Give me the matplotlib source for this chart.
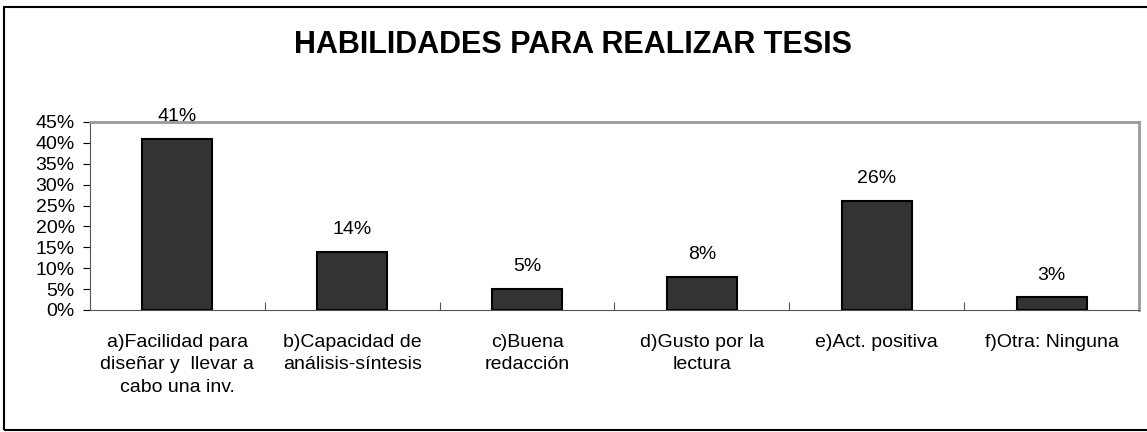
import matplotlib.pyplot as plt
from matplotlib.patches import Rectangle
from matplotlib.ticker import PercentFormatter

# datos
categorias = ['a)Facilidad para\ndiseñar y  llevar a\ncabo una inv.',
              'b)Capacidad de\nanálisis-síntesis',
              'c)Buena\nredacción',
              'd)Gusto por la\nlectura',
              'e)Act. positiva',
              'f)Otra: Ninguna']
porcentajes = [41, 14, 5, 8, 26, 3]
ticks_y = [0, 5, 10, 15, 20, 25, 30, 35, 40, 45]

plt.rcParams['font.family'] = ['Liberation Sans', 'DejaVu Sans']

fig = plt.figure(figsize=(11.47, 4.32), dpi=100)
ax = fig.add_axes([90 / 1147, 1 - 310 / 432, (1139 - 90) / 1147, (310 - 122) / 432])

x = list(range(len(categorias)))
barras = ax.bar(x, porcentajes, width=0.4, color='#333333', edgecolor='black', linewidth=1.5)
for xi, v in zip(x, porcentajes):
    ax.annotate(str(v) + '%', (xi, v), xytext=(0, 10), textcoords='offset points',
                ha='center', va='bottom', fontsize=14)

ax.set_xlim(-0.5, len(categorias) - 0.5)
ax.set_ylim(0, 45)
ax.set_yticks(ticks_y)
ax.yaxis.set_major_formatter(PercentFormatter(decimals=0))
ax.set_xticks([i + 0.5 for i in range(-1, len(categorias))])
ax.set_xticklabels([])
ax.set_xticks(x, minor=True)
ax.set_xticklabels(categorias, minor=True, fontsize=14, linespacing=1.45)
ax.tick_params(axis='x', which='minor', length=0, pad=17)
ax.tick_params(axis='x', which='major', length=6, direction='in', color='#555555')
ax.tick_params(axis='y', length=5, direction='out', labelsize=14, pad=6)

ax.spines['top'].set_color('#999999')
ax.spines['right'].set_color('#999999')
ax.spines['top'].set_linewidth(2)
ax.spines['right'].set_linewidth(2)
ax.spines['bottom'].set_color('#555555')
ax.spines['left'].set_color('#555555')

fig.text(0.5, 1 - 45 / 432, 'HABILIDADES PARA REALIZAR TESIS', ha='center', va='center',
         fontsize=22, fontweight='bold')

# marco exterior
fig.patches.append(Rectangle((4 / 1147, 2 / 432), 1.1, 1 - 9 / 432, transform=fig.transFigure,
                             fill=False, edgecolor='black', linewidth=1.5))

fig.savefig('out.png', dpi=100)
